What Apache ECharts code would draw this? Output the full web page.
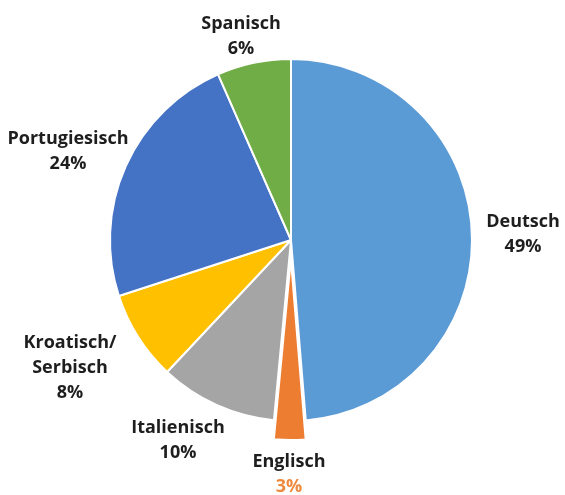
<!DOCTYPE html>
<html>
<head>
<meta charset="utf-8">
<script src="https://cdn.jsdelivr.net/npm/echarts@6/dist/echarts.min.js"></script>
<style>
  html, body { margin: 0; padding: 0; background: #fff; }
  #main { width: 565px; height: 495px; }
</style>
</head>
<body>
<div id="main"></div>
<script>
(function () {
    'use strict';

    // Sprachen und Anteile (Winkel aus dem Bild gemessen, Beschriftung wie gedruckt)
    var languages = ['Deutsch', 'Englisch', 'Italienisch', 'Kroatisch/Serbisch', 'Portugiesisch', 'Spanisch'];
    var shares = [48.7, 2.8, 10.5, 8.0, 23.4, 6.6];
    var shareLabels = ['49%', '3%', '10%', '8%', '24%', '6%'];
    var colors = ['#5B9BD5', '#ED7D31', '#A5A5A5', '#FFC000', '#4472C4', '#70AD47'];
    var exploded = 'Englisch';

    // Mittelpunkte der Beschriftungen (Pixel)
    var labelPos = [[523, 234], [289, 474], [178, 440], [70, 368], [68, 151], [241, 36]];

    var center = [291, 240];
    var radius = 181;
    var explodeOffset = 19;

    // Richtung des herausgezogenen Stücks aus den Anteilen
    var total = shares.reduce(function (a, b) { return a + b; }, 0);
    var exIdx = languages.indexOf(exploded);
    var before = 0;
    for (var k = 0; k < exIdx; k++) before += shares[k];
    var midAngle = (before + shares[exIdx] / 2) / total * 2 * Math.PI;
    var exCenter = [
        center[0] + Math.sin(midAngle) * explodeOffset,
        center[1] - Math.cos(midAngle) * explodeOffset
    ];

    var hidden = { color: 'rgba(0,0,0,0)', borderWidth: 0 };

    var mainData = languages.map(function (name, i) {
        return {
            name: name,
            value: shares[i],
            itemStyle: name === exploded ? hidden : { color: colors[i] }
        };
    });
    var exData = languages.map(function (name, i) {
        return {
            name: name,
            value: shares[i],
            itemStyle: name === exploded ? { color: colors[i] } : hidden
        };
    });

    var txt = { fontFamily: 'Open Sans', fontWeight: 'bold', fontSize: 18, color: '#1e1e1e', lineHeight: 25, align: 'center' };

    var myChart = echarts.init(document.getElementById('main'));
    var option = {
        animation: false,
        backgroundColor: '#fff',
        series: [{
            type: 'pie',
            center: exCenter,
            radius: radius,
            startAngle: 90,
            clockwise: true,
            silent: true,
            itemStyle: { borderColor: '#fff', borderWidth: 2 },
            label: { show: false },
            labelLine: { show: false },
            data: exData
        }, {
            type: 'pie',
            center: center,
            radius: radius,
            startAngle: 90,
            clockwise: true,
            avoidLabelOverlap: false,
            itemStyle: { borderColor: '#fff', borderWidth: 2 },
            label: {
                show: true,
                position: 'outside',
                formatter: function (p) {
                    var name = p.name.replace('/', '/\n');
                    var pctStyle = p.name === exploded ? 'o' : 'p';
                    return '{n|' + name + '}\n{' + pctStyle + '|' + shareLabels[p.dataIndex] + '}';
                },
                rich: {
                    n: txt,
                    p: txt,
                    o: Object.assign({}, txt, { color: '#EE8A3E' })
                }
            },
            labelLine: { show: false },
            labelLayout: function (params) {
                var pos = labelPos[params.dataIndex];
                return { x: pos[0], y: pos[1], align: 'center', verticalAlign: 'middle' };
            },
            emphasis: { disabled: true },
            data: mainData
        }]
    };
    myChart.setOption(option);
})();
</script>
</body>
</html>
